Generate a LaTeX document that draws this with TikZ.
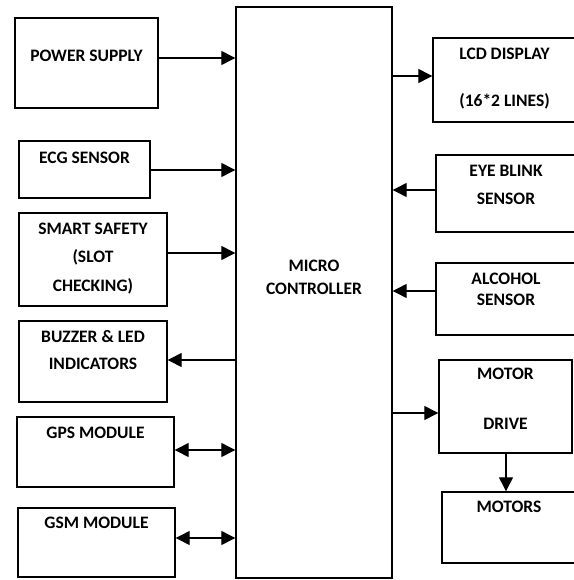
\documentclass[tikz,border=0pt]{standalone}
\usepackage{fontspec}
\setmainfont{Carlito}
\usetikzlibrary{arrows.meta}

\begin{document}
\begin{tikzpicture}[x=1pt, y=-1pt,
    box/.style={rectangle, draw, line width=1.4pt, inner sep=0pt},
    lbl/.style={font=\fontsize{17.5}{#1}\selectfont\bfseries, align=center, inner sep=0pt},
    lbl/.default=22,
    arr/.style={line width=1.3pt, -{Triangle[length=14pt, width=14pt]}},
    biarr/.style={line width=1.3pt, {Triangle[length=14pt, width=14pt]}-{Triangle[length=14pt, width=14pt]}}]
    \useasboundingbox (0,0) rectangle (573,580);

    % controller in the middle
    \node[box, minimum width=156, minimum height=571] (ctrl) at (314,292.5) {};
    \node[lbl=23] (ctrl-t) at (314,277) {MICRO\\CONTROLLER};

    % left column
    \node[box, minimum width=143, minimum height=90] (power) at (86.5,63) {};
    \node[lbl] (power-t) at (86.5,56) {POWER SUPPLY};
    \node[box, minimum width=131, minimum height=57] (ecg) at (84.5,169.5) {};
    \node[lbl] (ecg-t) at (84.5,158) {ECG SENSOR};
    \node[box, minimum width=148, minimum height=93] (safety) at (93,259.5) {};
    \node[lbl=28.5] (safety-t) at (93,258.5) {SMART SAFETY\\(SLOT\\CHECKING)};
    \node[box, minimum width=148, minimum height=81] (buzzer) at (93,361.5) {};
    \node[lbl=27] (buzzer-t) at (93,350) {BUZZER \& LED\\INDICATORS};
    \node[box, minimum width=157, minimum height=70] (gps) at (95.5,452) {};
    \node[lbl] (gps-t) at (95.5,433) {GPS MODULE};
    \node[box, minimum width=157, minimum height=69] (gsm) at (96.5,542.5) {};
    \node[lbl] (gsm-t) at (96.5,523) {GSM MODULE};

    % right column
    \node[box, minimum width=143, minimum height=84] (lcd) at (504.5,80) {};
    \node[lbl=47] (lcd-t) at (504.5,79) {LCD DISPLAY\\(16*2 LINES)};
    \node[box, minimum width=140, minimum height=77] (eye) at (506,193.5) {};
    \node[lbl=28] (eye-t) at (506,184.5) {EYE BLINK\\SENSOR};
    \node[box, minimum width=140, minimum height=72] (alcohol) at (506,299) {};
    \node[lbl=21] (alcohol-t) at (506,289) {ALCOHOL\\SENSOR};
    \node[box, minimum width=133, minimum height=93] (motordrv) at (505.5,406.5) {};
    \node[lbl=50] (motordrv-t) at (505.5,398.5) {MOTOR\\DRIVE};
    \node[box, minimum width=134, minimum height=71] (motors) at (509,527.5) {};
    \node[lbl] (motors-t) at (509,507) {MOTORS};

    % connections
    \draw[arr] (power.east |- 0,58) -- (ctrl.west |- 0,58);
    \draw[arr] (ecg.east |- 0,170) -- (ctrl.west |- 0,170);
    \draw[arr] (safety.east |- 0,253) -- (ctrl.west |- 0,253);
    \draw[arr] (ctrl.west |- 0,360) -- (buzzer.east |- 0,360);
    \draw[biarr] (gps.east |- 0,450) -- (ctrl.west |- 0,450);
    \draw[biarr] (gsm.east |- 0,538) -- (ctrl.west |- 0,538);
    \draw[arr] (ctrl.east |- 0,76) -- (lcd.west |- 0,76);
    \draw[arr] (eye.west |- 0,190) -- (ctrl.east |- 0,190);
    \draw[arr] (alcohol.west |- 0,291) -- (ctrl.east |- 0,291);
    \draw[arr] (ctrl.east |- 0,413) -- (motordrv.west |- 0,413);
    \draw[arr] (motordrv.south -| 506,0) -- (motors.north -| 506,0);
\end{tikzpicture}
\end{document}
